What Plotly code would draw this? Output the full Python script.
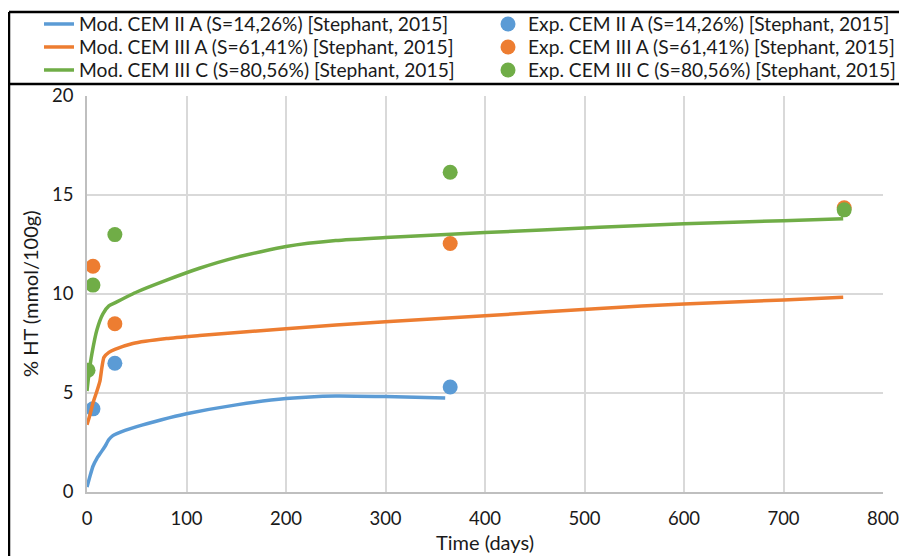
import plotly.graph_objects as go

# Model curves (time in days, %HT)
mod_ii_a_t = [0, 3, 6, 10, 14, 18, 22, 26, 30, 50, 75, 100, 150, 200, 250, 300, 360]
mod_ii_a_y = [0.25, 0.8, 1.3, 1.7, 2.0, 2.3, 2.65, 2.85, 2.95, 3.3, 3.65, 3.95, 4.4, 4.72, 4.85, 4.82, 4.75]

mod_iii_a_t = [0, 3, 6, 10, 13, 15, 17, 22, 28, 46, 80, 113, 200, 300, 400, 515, 600, 700, 760]
mod_iii_a_y = [3.4, 3.9, 4.5, 5.1, 5.6, 6.3, 6.8, 7.05, 7.2, 7.5, 7.75, 7.9, 8.25, 8.6, 8.9, 9.27, 9.5, 9.7, 9.84]

mod_iii_c_t = [0, 2, 5, 10, 16, 22, 28, 50, 80, 113, 150, 200, 250, 300, 400, 515, 600, 700, 760]
mod_iii_c_y = [5.1, 6.0, 7.0, 8.2, 9.0, 9.4, 9.55, 10.1, 10.7, 11.3, 11.85, 12.4, 12.7, 12.85, 13.1, 13.37, 13.55, 13.7, 13.8]

# Experimental points
exp_ii_a_t = [6, 28, 365]
exp_ii_a_y = [4.2, 6.5, 5.3]

exp_iii_a_t = [6, 28, 365, 761]
exp_iii_a_y = [11.4, 8.5, 12.55, 14.35]

exp_iii_c_t = [1, 6, 28, 365, 761]
exp_iii_c_y = [6.15, 10.45, 13.0, 16.15, 14.25]

names_mod = ["Mod. CEM II A (S=14,26%) [Stephant, 2015]",
             "Mod. CEM III A (S=61,41%) [Stephant, 2015]",
             "Mod. CEM III C (S=80,56%) [Stephant, 2015]"]
names_exp = ["Exp. CEM II A (S=14,26%) [Stephant, 2015]",
             "Exp. CEM III A (S=61,41%) [Stephant, 2015]",
             "Exp. CEM III C (S=80,56%) [Stephant, 2015]"]

x_ticks = [0, 100, 200, 300, 400, 500, 600, 700, 800]
y_ticks = [0, 5, 10, 15, 20]
x_title = "Time (days)"
y_title = "% HT (mmol/100g)"

colors = ["#5b9bd5", "#ed7d31", "#70ad47"]

# the page body adds an 8px offset, so the figure is 8px smaller than the window
OFF = 8
W, H = 907 - OFF, 556 - OFF
font_family = "Lato, 'Open Sans', sans-serif"

fig = go.Figure()
mods = [(mod_ii_a_t, mod_ii_a_y), (mod_iii_a_t, mod_iii_a_y), (mod_iii_c_t, mod_iii_c_y)]
exps = [(exp_ii_a_t, exp_ii_a_y), (exp_iii_a_t, exp_iii_a_y), (exp_iii_c_t, exp_iii_c_y)]

row_y = [24 - OFF, 47 - OFF, 70 - OFF]
legends = {}
for i in range(3):
    lm = "legend" if i == 0 else f"legend{2 * i + 1}"
    le = f"legend{2 * i + 2}"
    fig.add_trace(go.Scatter(x=mods[i][0], y=mods[i][1], mode="lines", name=names_mod[i],
                             line=dict(color=colors[i], width=3.5, shape="spline", smoothing=0.5),
                             legend=lm))
    fig.add_trace(go.Scatter(x=exps[i][0], y=exps[i][1], mode="markers", name=names_exp[i],
                             marker=dict(color=colors[i], size=15, line=dict(width=0)),
                             legend=le))
    common = dict(xref="container", yref="container", xanchor="left", yanchor="middle",
                  font=dict(family=font_family, size=19.2, color="#1a1a1a"),
                  bgcolor="rgba(0,0,0,0)", borderwidth=0)
    legends[lm] = dict(x=31 / W, y=1 - row_y[i] / H, **common)
    legends[le] = dict(x=480 / W, y=1 - row_y[i] / H, **common)

L, R, T, B = 87 - OFF, 907 - 883, 96 - OFF, 556 - 492

fig.update_layout(
    width=W, height=H,
    margin=dict(l=L, r=R, t=T, b=B, autoexpand=False),
    paper_bgcolor="white", plot_bgcolor="white",
    font=dict(family=font_family, size=18, color="#1a1a1a"),
    showlegend=True,
    xaxis=dict(range=[0, 800], tickvals=x_ticks, showgrid=True, gridcolor="#d9d9d9", gridwidth=1.5,
               showline=True, linecolor="#bfbfbf", linewidth=1.5, zeroline=False, ticks="",
               ticklabelstandoff=9,
               title=dict(text=x_title, font=dict(size=20), standoff=8),
               tickfont=dict(size=18.5)),
    yaxis=dict(range=[0, 20], tickvals=y_ticks, showgrid=True, gridcolor="#d9d9d9", gridwidth=1.5,
               showline=True, linecolor="#bfbfbf", linewidth=1.5, zeroline=False, ticks="",
               ticklabelstandoff=8,
               tickfont=dict(size=18.5)),
    **legends,
)

pw, ph = W - L - R, H - T - B

# y-axis title as a rotated annotation (centre at page x ~30)
fig.add_annotation(text=y_title, xref="paper", yref="paper", x=((30 - OFF) - L) / pw, y=0.5,
                   textangle=-90, showarrow=False, xanchor="center", yanchor="middle",
                   font=dict(family=font_family, size=20, color="#1a1a1a"))

# frame of the chart area (as in the source figure)
y_top = (H - B - (12 - OFF)) / ph
y_sep = (H - B - (84 - OFF)) / ph
x_left = ((9 - OFF) - L) / pw
fig.add_shape(type="line", xref="paper", yref="paper", x0=x_left, x1=1.05, y0=y_top, y1=y_top,
              line=dict(color="black", width=2.5))
fig.add_shape(type="line", xref="paper", yref="paper", x0=x_left, x1=1.05, y0=y_sep, y1=y_sep,
              line=dict(color="black", width=2.5))
fig.add_shape(type="line", xref="paper", yref="paper", x0=x_left, x1=x_left, y0=y_top, y1=-0.3,
              line=dict(color="black", width=2.5))

fig.write_html("out.html")
